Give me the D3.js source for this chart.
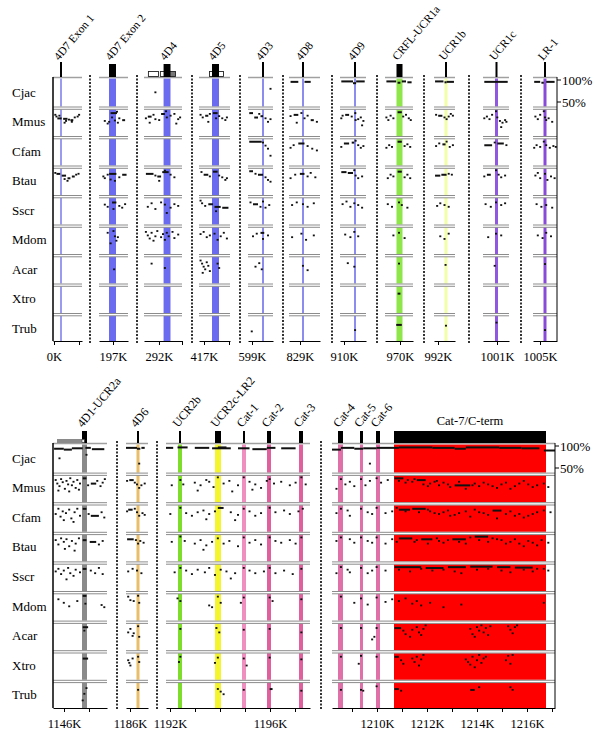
<!DOCTYPE html>
<html><head><meta charset="utf-8">
<script src="https://cdn.jsdelivr.net/npm/d3@7"></script>
<style>body{margin:0;background:#fff} svg{display:block}</style>
</head><body><svg id="c" width="600" height="739"></svg>
<script>
// ---------------- DATA ----------------
const species = ["Cjac","Mmus","Cfam","Btau","Sscr","Mdom","Acar","Xtro","Trub"];
const pctTicks = [100, 50];

// top block windows (kb)
const topDomains = [[-0.04,1.12],[196.44,197.6],[291.35,293],[416.8,418.04],[598.84,599.84],[828.56,829.8],[909.84,910.88],[969.4,970.52],[991.84,992.68],[1000.44,1001.48],[1004.72,1005.68]];
const topTicks = [[0,1],[197],[292,293],[417,418],[599],[829],[910],[970],[992],[1001],[1005]];
const topTickLabels = [0,197,292,417,599,829,910,970,992,1001,1005];

// top conserved elements
const topElemNames = ["4D7 Exon 1","4D7 Exon 2","4D4","4D5","4D3","4D8","4D9","CRFL-UCR1a","UCR1b","UCR1c","LR-1"];
const topElemPanel = [0,1,2,3,4,5,6,7,8,9,10];
const topElemKb = [0.28,196.98,292.35,417.46,599.44,829.12,910.44,969.98,992.32,1000.98,1005.2];
const topElemLen = [0.08,0.28,0.3,0.28,0.08,0.08,0.08,0.24,0.12,0.12,0.12];

// bottom block windows (kb)
const botDomains = [[1145.56,1147.72],[1185.84,1186.72],[1191.84,1197.6],[1208.2,1217.12]];
const botTicks = [[1146,1147],[1186],[1192,1193,1194,1195,1196,1197],[1209,1210,1211,1212,1213,1214,1215,1216,1217]];
const botTickLabels = [1146,1186,1192,1196,1210,1212,1214,1216];

const botElemNames = ["4D1-UCR2a","4D6","UCR2b","UCR2c-LR2","Cat-1","Cat-2","Cat-3","Cat-4","Cat-5","Cat-6","Cat-7/C-term"];
const botElemPanel = [0,1,2,2,2,2,2,3,3,3,3];
const botElemKb = [1146.82,1186.32,1192.4,1193.92,1194.96,1195.96,1197.24,1208.54,1209.38,1210.04,1213.72];
const botElemLen = [0.2,0.12,0.16,0.24,0.16,0.16,0.16,0.2,0.12,0.16,6.08];

// extra exon annotations: [block, panel, kbStart, kbEnd, kind]
const exonBlocks = [
  ["top",2,291.52,292.0,"open"],["top",2,292.04,292.26,"open"],["top",2,292.39,292.74,"grey"],
  ["top",3,417.2,417.36,"open"],["top",3,417.56,417.8,"open"],
  ["bot",0,1145.72,1146.72,"bar"],["bot",0,1146.72,1146.81,"notch"]
];

// conservation profiles: per window, one string per species; "pos,pct" or "pos1-pos2,pct" (pos = fraction of window)
const cons0K = ["", "0.08,88 0.12,84 0.15-0.3,80 0.22,86 0.35-0.5,79 0.45,74 0.55,77 0.6-0.7,76 0.75,82 0.85,84 0.9,88 0.65,72 0.4,70", "", "0.08,90 0.12-0.25,88 0.3-0.45,84 0.5-0.6,78 0.5,72 0.65-0.75,82 0.8,86 0.88,88 0.4,76", "", "", "", "", ""];
const cons197K = ["", "0.4-0.62,92 0.62,95 0.45,82 0.35,72 0.3,68 0.55,75 0.7,80 0.8-0.9,76 0.65,70 0.2,74", "", "0.15,82 0.2,78 0.3,86 0.35-0.6,88 0.4,75 0.55,72 0.7,80 0.8-0.95,86", "0.2,85 0.3,80 0.45-0.6,90 0.5,75 0.7,82 0.8,78 0.9,86", "0.3,88 0.5,92 0.55,80 0.6,70 0.65,78 0.4,64", "0.52,72", "", ""];
const cons292K = ["0.3,72", "0.05,80 0.1-0.2,84 0.25,88 0.3,78 0.4,76 0.45-0.55,90 0.58,96 0.6,82 0.7,86 0.8,90 0.9,78 0.95,82 0.15,70 0.85,68", "", "0.05-0.25,88 0.3,84 0.35-0.45,82 0.48-0.65,92 0.55,95 0.4,72 0.7,86 0.8,80", "0.1,80 0.2,88 0.3,75 0.45,90 0.55,85 0.7,78 0.8,86 0.9,82 0.6,66", "0.05,90 0.1,82 0.15,75 0.2,88 0.25,70 0.3,80 0.35,92 0.45,78 0.5,85 0.55,72 0.6,88 0.65,80 0.75,90 0.8,76 0.9,84", "0.2,85 0.55,75", "", ""];
const cons417K = ["", "0.05,88 0.12,82 0.2-0.3,86 0.35,90 0.45-0.6,92 0.55,80 0.65,85 0.75,80 0.85,76 0.9,82 0.3,72", "", "0.08,92 0.15-0.3,86 0.35,82 0.45-0.6,93 0.65,84 0.75,80 0.85,74 0.9,78", "0.05,94 0.1,88 0.2,82 0.3-0.45,86 0.5-0.7,80 0.75-0.95,78 0.55,70", "0.05,85 0.15,90 0.25,78 0.35,82 0.5,86 0.6,72 0.7,80 0.8,88 0.9,75", "0.05,92 0.1,85 0.15,78 0.2,72 0.25,88 0.3,80 0.35,68 0.6,85 0.65,75 0.12,64", "", ""];
const cons599K = ["0.9,80", "0.05-0.2,92 0.25-0.4,82 0.45,90 0.5-0.6,85 0.7,80 0.8,72 0.9,78", "0.05-0.55,94 0.6,92 0.7,85 0.8,78 0.9,62", "0.05-0.2,94 0.3,88 0.4-0.6,86 0.7,80 0.8,74 0.9,70", "0.1,90 0.2-0.4,86 0.5,80 0.6,92 0.7,78 0.85,84", "0.2,80 0.35,86 0.5-0.65,88 0.6,74 0.8,82", "0.3,78 0.45,86 0.55,72", "", "0.15,65"];
const cons829K = ["0.05-0.3,96 0.5-0.7,96", "0.05,85 0.15-0.3,88 0.4,92 0.5,80 0.6,86 0.7-0.8,76 0.9,72 0.25,70", "0.05,80 0.15,86 0.3-0.5,90 0.6,84 0.75,78 0.9,74", "0.05,78 0.2,86 0.35-0.5,88 0.6,82 0.7,90 0.85,80", "0.1,84 0.25,90 0.45,86 0.6,80 0.8,88", "0.1,78 0.4,86 0.55,72 0.8,82", "0.45,80 0.6,70", "", ""];
const cons910K = ["0.05-0.5,97 0.5-0.62,93 0.62-0.95,97", "0.05,80 0.1,86 0.2-0.35,88 0.45,84 0.55-0.62,92 0.6,76 0.7,78 0.8,82 0.9,74 0.85,64", "0.05,82 0.15-0.35,90 0.45-0.55,92 0.6,96 0.7,86 0.8,80 0.9,84", "0.05-0.25,92 0.3-0.5,90 0.55,96 0.6,84 0.7,78 0.85,82", "0.1,86 0.25,92 0.4,80 0.55,88 0.7,84 0.85,78", "0.2,84 0.4,78 0.55,90 0.7,80", "0.3,86 0.55,78", "", "0.58,68"];
const cons970K = ["0.05-0.4,97 0.45-0.55,94 0.6-0.75,97 0.8-0.95,95", "0.05,82 0.12,76 0.2,86 0.3,80 0.45-0.6,94 0.65,84 0.75,88 0.85,80 0.92,76", "0.05,80 0.15,86 0.25,82 0.45-0.6,94 0.7,84 0.8,88 0.9,82", "0.1,78 0.2,86 0.3,82 0.45-0.6,93 0.7,80 0.8,86 0.9,78", "0.1,86 0.25,80 0.5,90 0.6,84 0.8,78", "0.3,82 0.5,88 0.7,76", "0.5,85", "0.45-0.55,84", "0.4-0.6,80"];
const cons992K = ["0.05-0.45,97 0.5-0.6,95 0.6-0.95,96", "0.1,88 0.2-0.4,86 0.5,82 0.6,78 0.7,84 0.8,90 0.9,86", "0.1,84 0.25,90 0.4-0.55,88 0.6,94 0.75,82 0.9,86", "0.05-0.3,84 0.35-0.6,86 0.7,88 0.85,86", "0.15,82 0.3,88 0.5,84 0.7,80", "0.3,80 0.5,74 0.7,86", "0.55,82", "", "0.57,78"];
const cons1001K = ["0.05-0.95,96", "0.05,80 0.15,84 0.25,78 0.35,88 0.5,96 0.55,82 0.65,74 0.75,70 0.85,76 0.9,72 0.7,60", "0.05-0.35,86 0.45,92 0.55-0.8,90 0.9,86", "0.05,82 0.15-0.3,86 0.5,96 0.6,86 0.7,80 0.85,84", "0.1,86 0.3,80 0.5,90 0.7,84 0.85,88", "0.2,78 0.5,86 0.7,82", "0.45,80", "", "0.52,85"];
const cons1005K = ["0.05-0.3,96 0.35-0.45,94 0.55-0.9,96", "0.1,84 0.2,78 0.3,88 0.45,96 0.5,82 0.55,76 0.65,80 0.8,72", "0.05,80 0.15,86 0.3,82 0.45,94 0.55,86 0.7,80 0.85,84 0.95,82", "0.1,84 0.2,90 0.3,78 0.5,88 0.6,74 0.75,82 0.9,78", "0.15,86 0.35,80 0.55,84 0.8,78", "0.2,82 0.4,76 0.55,88 0.75,80", "0.5,84", "", "0.5,68"];

const cons1146K = ["0.02-0.2,94 0.2-0.35,92 0.35-0.55,95 0.6-0.7,96 0.72-0.95,93 0.12,72 0.62,80",
 "0.05,90 0.08,82 0.12,76 0.15,92 0.18,85 0.22,70 0.25,88 0.28,80 0.32,94 0.35,78 0.38,86 0.42,72 0.45,90 0.5,82 0.55-0.62,94 0.65,78 0.7-0.8,82 0.82,88 0.88,76 0.92,84 0.96,92 0.1,66 0.3,64 0.48,68",
 "0.05,80 0.1,92 0.14,74 0.18,86 0.24,82 0.3,90 0.34,70 0.4,84 0.45,92 0.5,76 0.55-0.62,92 0.66,80 0.7-0.85,76 0.9,84 0.95,72 0.2,66 0.38,62",
 "0.05,88 0.1,78 0.15,92 0.2,84 0.25,90 0.3,74 0.35,86 0.42,80 0.48,92 0.55-0.62,88 0.68-0.8,84 0.85,78 0.92,86 0.22,68 0.4,64",
 "0.05,84 0.1,90 0.15,78 0.2,86 0.28,92 0.32,80 0.38,74 0.42,88 0.5,82 0.55-0.62,90 0.7,86 0.78,80 0.85,92 0.92,78 0.25,66",
 "0.1,88 0.2,80 0.3,72 0.45,84 0.55-0.62,96 0.6,78 0.9,75 0.95,70",
 "0.55-0.65,92 0.58,84", "0.55-0.65,88", "0.58,75 0.62,88 0.55,60"];
const cons1186K = ["0.0-0.5,96 0.5-0.65,94 0.7-0.85,96 0.6,60", "0.05,88 0.15-0.35,90 0.4,84 0.5,80 0.6,72 0.7,78 0.85,82", "0.05,86 0.1-0.3,90 0.4,92 0.5,84 0.6,76 0.75,82 0.85,78", "0.05-0.35,90 0.45,88 0.55,80 0.65,86 0.8,82", "0.1,84 0.3,90 0.5,86 0.7,80", "0.1,94 0.2,86 0.35,84 0.55,96 0.6,80", "0.1,80 0.2,88 0.3,72 0.35,78 0.55,94 0.6,70", "0.1,84 0.15,78 0.2,72 0.3,88 0.55,92 0.6,80", "0.55,84"];
const cons1192K = ["0.0-0.05,96 0.08-0.15,97 0.2-0.3,96 0.32-0.45,95 0.36-0.42,97 0.5-0.58,95 0.6-0.7,93 0.7-0.76,96 0.8-0.9,95",
 "0.04,78 0.1,90 0.12,80 0.2,84 0.24,78 0.28,90 0.3,86 0.33,74 0.36,96 0.4,82 0.44,88 0.5,78 0.54,96 0.58,86 0.62,80 0.66,72 0.7,88 0.72,92 0.75,82 0.8,86 0.86,78 0.9,84 0.94,96 0.97,80 0.22,66 0.46,64 0.6,68",
 "0.03,80 0.1,94 0.14,82 0.18,76 0.22,84 0.26,88 0.3,80 0.34,86 0.36-0.4,94 0.45,84 0.5,78 0.54,92 0.58,86 0.62,76 0.66,82 0.72,94 0.76,84 0.82,88 0.86,80 0.92,86 0.95,92 0.28,68 0.48,66",
 "0.04,84 0.1,96 0.13,86 0.2,80 0.24,88 0.28,76 0.32,84 0.36,92 0.4,80 0.44,86 0.5,74 0.54,94 0.58,82 0.62,88 0.66,78 0.72,94 0.76,86 0.8,82 0.86,88 0.9,80 0.94,94 0.26,66",
 "0.06,82 0.1,92 0.14,86 0.18,78 0.22,88 0.27,82 0.3,92 0.34,76 0.38,88 0.42,84 0.48,80 0.54,92 0.58,86 0.62,80 0.68,84 0.72,92 0.76,80 0.82,86 0.88,78 0.94,90 0.45,68",
 "0.08,90 0.1,84 0.3,74 0.32,70 0.36,94 0.38,80 0.54,92 0.52,80 0.72,92 0.74,84 0.94,88",
 "0.1,88 0.35,90 0.37,80 0.54,86 0.72,88 0.94,80",
 "0.1,92 0.09,80 0.36,90 0.34,78 0.54,88 0.56,72 0.72,90 0.94,86",
 "0.36,86 0.38,80 0.4,74 0.54,84 0.72-0.74,86 0.94,82"];
const cons1210K = ["0.0-0.04,92 0.04-0.1,96 0.1-0.14,94 0.14-0.2,95 0.2-0.3,96 0.3-0.45,97 0.45-0.55,96 0.55-0.6,94 0.6-0.75,97 0.75-0.85,96 0.85-0.93,95 0.95-1.0,90 0.17,60",
 "0.02,70 0.04,92 0.06,80 0.1,76 0.13,92 0.15,78 0.2,94 0.22,84 0.25,90 0.28-0.32,94 0.34,90 0.36,86 0.38-0.42,90 0.44,82 0.46,86 0.48,78 0.5,84 0.52,80 0.55-0.62,78 0.64,82 0.66,76 0.7,80 0.74,72 0.78,84 0.82,76 0.88,80 0.9,74 0.95,82 0.3,88 0.33,84 0.37,92 0.41,80 0.43,76 0.47,88 0.53,74 0.57,86 0.6,70 0.63,78 0.68,84 0.72,76 0.76,80 0.8,70 0.84,82 0.86,88 0.92,78 0.97,74 0.08,86 0.17,88",
 "0.02,82 0.04,92 0.08,76 0.13,92 0.16,84 0.2,94 0.24,82 0.27,86 0.3-0.35,90 0.36-0.42,92 0.44,86 0.46,82 0.5,84 0.52,88 0.55,78 0.6,86 0.62,74 0.68,82 0.72-0.76,88 0.78,80 0.82,76 0.86,72 0.9,80 0.98,84 0.29,94 0.33,86 0.39,84 0.43,90 0.48,80 0.53,76 0.57,82 0.64,90 0.66,84 0.7,78 0.74,70 0.8,86 0.84,80 0.88,76 0.92,84 0.95,88 0.07,88 0.18,80",
 "0.02,86 0.04,94 0.1,82 0.13,94 0.16,86 0.2,94 0.24,80 0.3-0.36,92 0.38,88 0.4-0.45,90 0.48,86 0.5,82 0.54-0.6,90 0.62,94 0.64-0.7,96 0.72,92 0.76,88 0.8,84 0.84,80 0.88,86 0.92,76 0.97,82 0.27,90 0.29,84 0.37,84 0.43,80 0.47,92 0.52,88 0.57,84 0.6,80 0.66,88 0.7,84 0.74,90 0.78,80 0.82,90 0.86,74 0.9,82 0.94,88 0.08,90 0.18,82",
 "0.02,80 0.04,94 0.08,82 0.13,92 0.16,80 0.2,94 0.24,86 0.28-0.4,94 0.42-0.5,92 0.52-0.6,94 0.62-0.72,95 0.74-0.8,94 0.82-0.9,93 0.92,90 0.97,86 0.3,88 0.35,84 0.4,90 0.45,86 0.5,88 0.55,84 0.58,80 0.65,88 0.7,90 0.76,86 0.8,82 0.86,88 0.9,84 0.95,90 0.07,88 0.18,86",
 "0.04,94 0.1,80 0.13,90 0.16,76 0.2,92 0.24,82 0.27,88 0.3,84 0.33,90 0.36,78 0.38,84 0.4,74 0.44,80 0.5,70 0.58,76 0.95,80",
 "0.04,90 0.13,90 0.2,90 0.19,70 0.18,64 0.28-0.31,90 0.32,84 0.33,76 0.35,70 0.36,86 0.38,92 0.39,80 0.4,74 0.41,88 0.42,96 0.62,88 0.63,76 0.64,70 0.65,92 0.66,84 0.67,96 0.68,80 0.69,90 0.7,74 0.71,94 0.79,94 0.8,86 0.81,78 0.82,92 0.83,96",
 "0.04,92 0.13,94 0.12,76 0.2,92 0.28-0.3,92 0.31,84 0.32,76 0.36,88 0.37,80 0.38,92 0.39,72 0.4,86 0.41,96 0.6,86 0.61,80 0.62,74 0.63,92 0.64,68 0.65,84 0.66,96 0.67,78 0.68,88 0.69,92 0.78,84 0.79,94 0.8,76 0.81,96",
 "0.04,84 0.13,84 0.14,82 0.2,92 0.28-0.3,86 0.31,82 0.62-0.64,84 0.66,90 0.8,90 0.81,84"];

const topCons = [cons0K,cons197K,cons292K,cons417K,cons599K,cons829K,cons910K,cons970K,cons992K,cons1001K,cons1005K];
const botCons = [cons1146K,cons1186K,cons1192K,cons1210K];

// ---------------- STYLE / LAYOUT ----------------
const topElemColors = ["#9a9af0","#6b6bf0","#6b6bf0","#6b6bf0","#8c8cee","#8c8cee","#8c8cee","#8ee64a","#f2ffa6","#9058e0","#8a4ad8"];
const topElemMark = ["line","box","box","box","line","line","line","box","line","line","line"];
const botElemColors = ["#8a8a8a","#eabd6a","#7edc2a","#f4f52c","#ef8fc0","#e0609e","#e0609e","#e070a8","#e070a8","#e070a8","#ff0000"];
const botElemMark = ["box","line","line","box","line","box","box","box","box","box","box"];
const FONT = "'Liberation Serif','Times New Roman',serif";

const layoutTop = {T0:77, pitch:29.5, yAxis:341, markTop:62, boxTop:64, labelY:61, labelSize:11.5,
  ranges:[[53,82],[99,128],[144,182],[199,230],[248,273],[289,320],[340,366],[385,413],[434,455],[483,509],[533,557]],
  seps:[90,137,192,240,283,332,377,424,469,521]};
const layoutBot = {T0:443, pitch:29.6, yAxis:708, markTop:431, boxTop:431, labelY:428, labelSize:12,
  ranges:[[53,107],[126,148],[166,310],[332,555]], seps:[117,157,321]};

// ---------------- DRAW ----------------
const svg = d3.select("#c");
svg.append("rect").attr("width",600).attr("height",739).attr("fill","#fff");

function parseCons(s){
  if(!s) return [];
  return s.trim().split(/\s+/).map(t=>{
    const [a,p] = t.split(",");
    const r = a.split("-").map(Number);
    return {f0:r[0], f1:r.length>1?r[1]:r[0], p:+p};
  });
}

function drawBlock(blockKey, L, domains, ticks, tickLabels, cons, names, panelIdx, kb, len, colors, marks){
  const g = svg.append("g");
  const n = species.length;
  const rowTop = i => L.T0 + i*L.pitch;
  const yPct = d3.scaleLinear().domain([50,100]).range([25,3]).clamp(true);
  const scales = [];

  domains.forEach((dom,j)=>{
    const [x0,x1] = L.ranges[j];
    const x = d3.scaleLinear().domain(dom).range([x0,x1]);
    scales.push(x);
    const fx = f => x(dom[0] + f*(dom[1]-dom[0]));

    // colored element bands
    names.forEach((nm,k)=>{
      if(panelIdx[k]!==j) return;
      const xa = x(kb[k]-len[k]/2), xb = x(kb[k]+len[k]/2);
      species.forEach((s,i)=>{
        const top = i===0 ? rowTop(0)+1.5 : rowTop(i)+3;
        const bot = i===n-1 ? L.yAxis : rowTop(i+1);
        g.append("rect").attr("x",xa).attr("y",top).attr("width",xb-xa).attr("height",bot-top).attr("fill",colors[k]);
      });
    });

    // row separator lines
    species.forEach((s,i)=>{
      if(i===0){
        g.append("line").attr("x1",x0).attr("x2",x1).attr("y1",rowTop(0)+0.5).attr("y2",rowTop(0)+0.5)
          .attr("stroke","#a0a0a0").attr("stroke-width",1.5);
      } else {
        [0.5,2.8].forEach(o=>g.append("line").attr("x1",x0).attr("x2",x1).attr("y1",rowTop(i)+o).attr("y2",rowTop(i)+o)
          .attr("stroke","#8c8c8c").attr("stroke-width",1));
      }
    });

    // conservation points / dashes
    cons[j].forEach((str,i)=>{
      parseCons(str).forEach(d=>{
        const xa = fx(d.f0), xb = fx(d.f1);
        const single = d.f0===d.f1;
        g.append("rect").attr("x", single ? xa-1 : xa).attr("y", rowTop(i)+yPct(d.p)-0.9)
          .attr("width", single ? 2 : Math.max(2, xb-xa)).attr("height", single ? 1.8 : 2)
          .attr("fill","#111");
      });
    });

    // bottom axis
    const axis = d3.axisBottom(x).tickValues(ticks[j]).tickSize(4).tickSizeOuter(0)
      .tickFormat(v => tickLabels.includes(v) ? v+"K" : "");
    const ag = g.append("g").attr("transform",`translate(0,${L.yAxis})`).call(axis);
    ag.select(".domain").attr("stroke","#000").attr("stroke-width",1);
    ag.selectAll(".tick line").attr("stroke","#000");
    ag.selectAll("text").attr("font-family",FONT).attr("font-size",12.5).attr("fill","#000").attr("y",11);
  });

  // left axis
  const [lx] = L.ranges[0];
  g.append("line").attr("x1",lx).attr("x2",lx).attr("y1",rowTop(0)).attr("y2",L.yAxis).attr("stroke","#000").attr("stroke-width",1.5);
  // right axis with percent ticks
  const rx = L.ranges[L.ranges.length-1][1];
  g.append("line").attr("x1",rx).attr("x2",rx).attr("y1",rowTop(0)).attr("y2",L.yAxis).attr("stroke","#000").attr("stroke-width",1);
  pctTicks.forEach(v=>{
    const yy = rowTop(0)+yPct(v);
    g.append("line").attr("x1",rx).attr("x2",rx+4).attr("y1",yy).attr("y2",yy).attr("stroke","#000");
    g.append("text").attr("x",rx+5).attr("y",yy).attr("dy","0.35em").attr("font-family",FONT).attr("font-size",13).text(v+"%");
  });

  // dotted separators
  L.seps.forEach(sx=>{
    g.append("line").attr("x1",sx).attr("x2",sx).attr("y1",rowTop(0)-2).attr("y2",L.yAxis+2)
      .attr("stroke","#000").attr("stroke-width",1.6).attr("stroke-dasharray","2,1.5");
  });

  // species labels
  species.forEach((s,i)=>{
    g.append("text").attr("x",12).attr("y",rowTop(i)+15).attr("dy","0.35em").attr("font-family",FONT).attr("font-size",13).text(s);
  });

  // exon annotation extras (below markers)
  exonBlocks.filter(e=>e[0]===blockKey && e[4]!=="notch").forEach(e=>{
    const x = scales[e[1]];
    const xa = x(e[2]), xb = x(e[3]);
    if(e[4]==="bar"){
      g.append("rect").attr("x",xa).attr("y",rowTop(0)-4).attr("width",xb-xa).attr("height",4).attr("fill","#8a8a8a");
    } else {
      g.append("rect").attr("x",xa+0.5).attr("y",rowTop(0)-5.5).attr("width",xb-xa-1).attr("height",5)
        .attr("fill", e[4]==="grey" ? "#777" : "#fff").attr("stroke","#222").attr("stroke-width",0.9);
    }
  });

  // black element markers and labels
  names.forEach((nm,k)=>{
    const x = scales[panelIdx[k]];
    const xa = x(kb[k]-len[k]/2), xb = x(kb[k]+len[k]/2), xc = x(kb[k]);
    if(marks[k]==="line"){
      g.append("line").attr("x1",xc).attr("x2",xc).attr("y1",L.markTop).attr("y2",rowTop(0)).attr("stroke","#000").attr("stroke-width",2);
    } else {
      g.append("rect").attr("x",xa).attr("y",L.boxTop).attr("width",xb-xa).attr("height",rowTop(0)-L.boxTop).attr("fill","#000");
    }
    if(len[k] > 2){
      g.append("text").attr("x",xc).attr("y",L.labelY-3).attr("text-anchor","middle").attr("font-family",FONT).attr("font-size",12.5).text(nm);
    } else {
      g.append("text").attr("transform",`translate(${xc-2},${L.labelY}) rotate(-50)`).attr("font-family",FONT).attr("font-size",L.labelSize).text(nm);
    }
  });

  exonBlocks.filter(e=>e[0]===blockKey && e[4]==="notch").forEach(e=>{
    const x = scales[e[1]];
    g.append("rect").attr("x",x(e[2])).attr("y",rowTop(0)-3.5).attr("width",x(e[3])-x(e[2])).attr("height",3)
      .attr("fill","#fff").attr("stroke","#444").attr("stroke-width",0.6);
  });
}

drawBlock("top", layoutTop, topDomains, topTicks, topTickLabels, topCons, topElemNames, topElemPanel, topElemKb, topElemLen, topElemColors, topElemMark);
drawBlock("bot", layoutBot, botDomains, botTicks, botTickLabels, botCons, botElemNames, botElemPanel, botElemKb, botElemLen, botElemColors, botElemMark);
</script>
</body></html>
